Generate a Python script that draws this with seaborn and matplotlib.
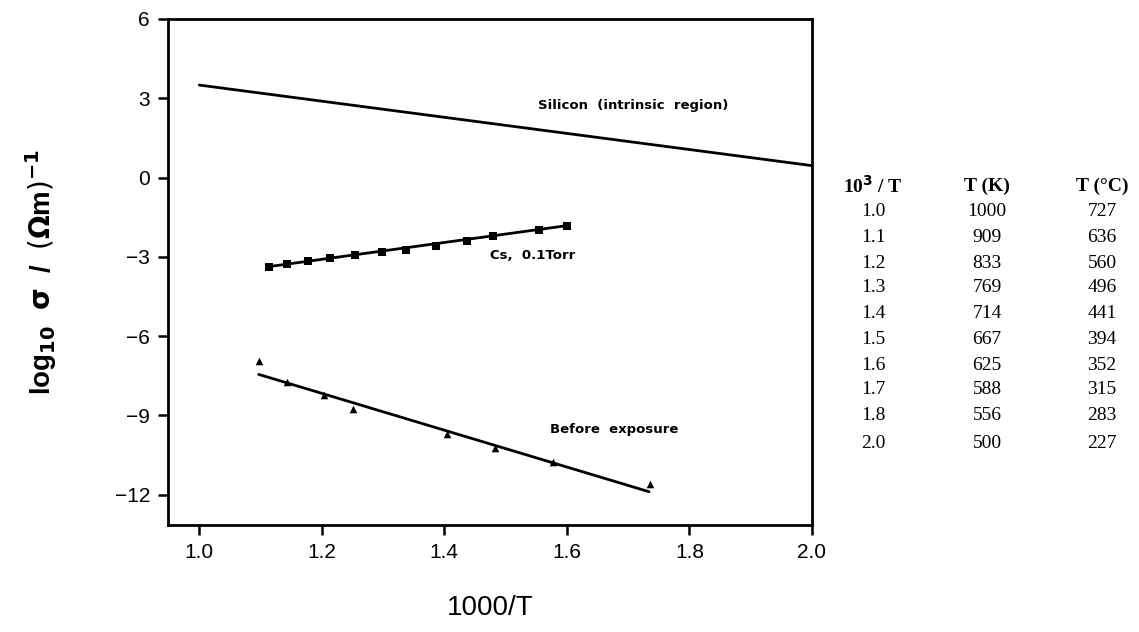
import numpy as np
import pandas as pd
import matplotlib
matplotlib.use("Agg")
import matplotlib.pyplot as plt
import seaborn as sns

# ---- data ----
si_x = [1.0, 2.0]
si_y = [3.5, 0.45]

cs_x = [1.114, 1.143, 1.178, 1.214, 1.254, 1.299, 1.338, 1.386, 1.437, 1.480, 1.554, 1.600]
cs_y = [-3.37, -3.28, -3.14, -3.04, -2.94, -2.82, -2.73, -2.59, -2.40, -2.22, -2.00, -1.82]
cs_fit_x = [1.114, 1.600]
cs_fit_y = [-3.37, -1.82]

be_x = [1.097, 1.144, 1.203, 1.251, 1.404, 1.482, 1.577, 1.735]
be_y = [-6.95, -7.72, -8.22, -8.76, -9.70, -10.22, -10.75, -11.60]
be_fit_x = [1.097, 1.734]
be_fit_y = [-7.45, -11.89]

x_ticks = [1.0, 1.2, 1.4, 1.6, 1.8, 2.0]
y_ticks = [-12, -9, -6, -3, 0, 3, 6]

tbl_inv = ["1.0", "1.1", "1.2", "1.3", "1.4", "1.5", "1.6", "1.7", "1.8", "2.0"]
tbl_K = ["1000", "909", "833", "769", "714", "667", "625", "588", "556", "500"]
tbl_C = ["727", "636", "560", "496", "441", "394", "352", "315", "283", "227"]

# ---- plotting ----
sns.set_theme(style="white")
plt.rcParams['font.family'] = ['Liberation Sans', 'DejaVu Sans']
plt.rcParams.update({"text.color": "black", "axes.labelcolor": "black",
                     "xtick.color": "black", "ytick.color": "black"})

fig = plt.figure(figsize=(11.39, 6.32), dpi=100)
ax = fig.add_axes([168/1139, 1-525/632, (812-168)/1139, (525-19)/632])

lw = 2.0
sns.lineplot(x=si_x, y=si_y, ax=ax, color="black", linewidth=lw)
sns.lineplot(x=cs_fit_x, y=cs_fit_y, ax=ax, color="black", linewidth=lw)
sns.lineplot(x=be_fit_x, y=be_fit_y, ax=ax, color="black", linewidth=lw)
sns.scatterplot(x=cs_x, y=cs_y, ax=ax, marker="s", s=38, color="black", edgecolor="black", linewidth=0, zorder=5)
sns.scatterplot(x=be_x, y=be_y, ax=ax, marker="^", s=30, color="black", edgecolor="black", linewidth=0, zorder=5)

ax.set_xlim(0.949, 2.0)
ax.set_ylim(-13.15, 6.0)
ax.set_xticks(x_ticks)
ax.set_xticklabels([f"{v:.1f}" for v in x_ticks])
ax.set_yticks(y_ticks)
ax.set_yticklabels([f"{v:d}".replace("-", "\u2212") for v in y_ticks])
for sp in ax.spines.values():
    sp.set_color("black")
    sp.set_linewidth(2.0)
ax.tick_params(axis="both", which="major", direction="out", length=7, width=1.8,
               color="black", labelcolor="black", labelsize=15, pad=6, left=True, bottom=True)

ax.set_xlabel("1000/T", fontsize=20, labelpad=24, color="black")
ax.set_ylabel(r"log$_{\mathbf{10}}$  $\mathbf{\sigma}$  /  $(\mathbf{\Omega}$m$)^{\mathbf{-1}}$",
              fontsize=20, fontweight="bold", labelpad=40, color="black")

ann = dict(fontsize=9.5, fontweight="bold", color="black", family=["DejaVu Sans"])
ax.text(1.553, 2.73, "Silicon  (intrinsic  region)", ha="left", va="center", **ann)
ax.text(1.475, -2.96, "Cs,  0.1Torr", ha="left", va="center", **ann)
ax.text(1.573, -9.53, "Before  exposure", ha="left", va="center", **ann)

# ---- conversion table ----
serif = ["Liberation Serif", "DejaVu Serif"]
cols = [873/1139, 987/1139, 1102/1139]
hy = 186
fs = 14
fig.text(cols[0], 1 - hy/632, r"10$^{\mathbf{3}}$ / T", ha="center", va="center",
         fontsize=fs, fontweight="bold", family=serif)
fig.text(cols[1], 1 - hy/632, "T (K)", ha="center", va="center",
         fontsize=fs, fontweight="bold", family=serif)
fig.text(cols[2], 1 - hy/632, "T (\u00b0C)", ha="center", va="center",
         fontsize=fs, fontweight="bold", family=serif)
row_y = [212, 237, 263, 288, 313, 340, 365, 390, 415, 444]
for yy, a, b, c in zip(row_y, tbl_inv, tbl_K, tbl_C):
    for xx, t in zip(cols, (a, b, c)):
        fig.text(xx, 1 - yy/632, t, ha="center", va="center", fontsize=fs, family=serif)

fig.savefig("out.png", dpi=100, facecolor="white")
